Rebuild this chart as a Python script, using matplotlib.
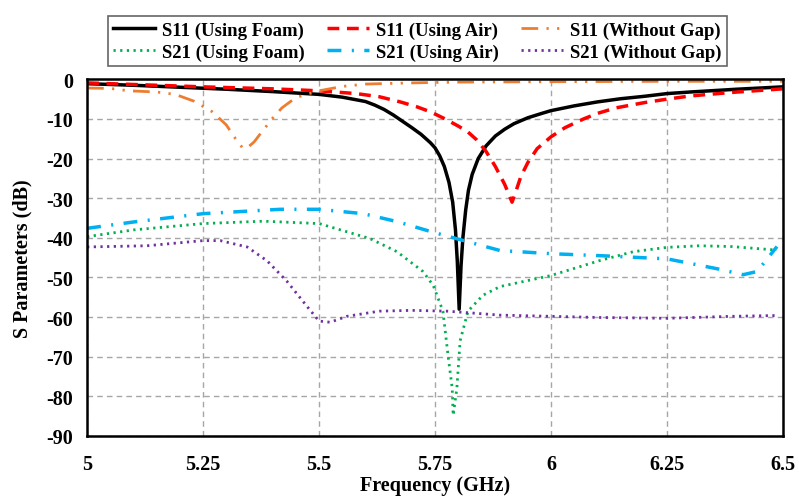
import matplotlib
matplotlib.use("Agg")
import matplotlib.pyplot as plt

plt.rcParams["font.family"] = ["Liberation Serif", "DejaVu Serif"]
plt.rcParams["font.weight"] = "bold"
plt.rcParams["axes.unicode_minus"] = False  # reference uses plain hyphens

# S11 using foam (black solid)
f_s11_foam = [5.00, 5.10, 5.20, 5.30, 5.40, 5.50, 5.55, 5.60, 5.62, 5.64, 5.66, 5.68,
              5.70, 5.72, 5.74, 5.75, 5.76, 5.77, 5.78, 5.788, 5.794, 5.798, 5.802,
              5.806, 5.81, 5.816, 5.822, 5.83, 5.843, 5.86, 5.88, 5.90, 5.92, 5.95,
              5.98, 6.00, 6.05, 6.10, 6.15, 6.20, 6.25, 6.30, 6.40, 6.50]
s11_foam = [-1.1, -1.5, -2.0, -2.5, -3.1, -3.8, -4.5, -5.6, -6.5, -7.6, -9.0, -10.6,
            -12.2, -13.9, -16.0, -17.3, -19.3, -22.0, -26.0, -31.0, -38.0, -46.0, -58.0,
            -47.0, -40.0, -33.0, -28.0, -24.0, -20.0, -16.8, -14.3, -12.6, -11.2, -9.7,
            -8.6, -7.9, -6.7, -5.7, -4.9, -4.3, -3.6, -3.2, -2.5, -1.9]

# S11 using air (red dashed)
f_s11_air = [5.00, 5.10, 5.25, 5.40, 5.50, 5.58, 5.63, 5.675, 5.71, 5.74, 5.77, 5.80,
             5.82, 5.84, 5.86, 5.88, 5.90, 5.916, 5.925, 5.935, 5.95, 5.97, 6.00, 6.03,
             6.07, 6.10, 6.14, 6.20, 6.25, 6.30, 6.39, 6.50]
s11_air = [-0.9, -1.3, -1.9, -2.4, -2.9, -3.6, -4.4, -5.7, -6.9, -8.2, -9.9, -11.8,
           -13.2, -15.3, -18.2, -22.0, -26.5, -31.0, -28.0, -24.5, -21.0, -17.5, -14.5, -12.2,
           -10.0, -8.6, -7.2, -5.9, -5.0, -4.2, -3.3, -2.4]

# S11 without gap (orange dash-dot-dot)
f_s11_nogap = [5.00, 5.05, 5.09, 5.15, 5.19, 5.23, 5.27, 5.30, 5.32, 5.335, 5.345, 5.36,
               5.375, 5.40, 5.42, 5.45, 5.50, 5.55, 5.60, 5.70, 5.80, 6.00, 6.25, 6.50]
s11_nogap = [-2.2, -2.3, -2.9, -3.2, -3.8, -5.5, -8.2, -11.5, -15.0, -17.3, -17.3, -15.8,
             -13.5, -9.8, -7.2, -4.6, -2.9, -1.8, -1.2, -0.9, -0.7, -0.6, -0.5, -0.5]

# S21 using foam (green dotted)
f_s21_foam = [5.00, 5.10, 5.25, 5.38, 5.50, 5.61, 5.668, 5.724, 5.746, 5.767, 5.778,
              5.787, 5.789, 5.797, 5.804, 5.821, 5.853, 5.89, 6.00, 6.106, 6.177, 6.25,
              6.32, 6.39, 6.487]
s21_foam = [-39.7, -38.0, -36.4, -35.8, -36.4, -40.2, -43.5, -48.5, -52.0, -58.5, -69.7,
            -78.0, -84.8, -78.0, -66.0, -58.5, -54.5, -52.3, -49.5, -45.7, -43.5, -42.4,
            -42.0, -42.2, -43.1]

# S21 using air (cyan dash-dot)
f_s21_air = [5.00, 5.10, 5.25, 5.416, 5.50, 5.595, 5.668, 5.746, 5.818, 5.89, 6.00,
             6.106, 6.25, 6.358, 6.414, 6.444, 6.487]
s21_air = [-37.6, -36.0, -33.9, -32.8, -32.8, -33.9, -35.9, -38.6, -40.9, -43.2, -44.0,
           -44.5, -45.3, -47.8, -49.3, -48.5, -42.2]

# S21 without gap (purple dotted)
f_s21_nogap = [5.00, 5.129, 5.25, 5.287, 5.345, 5.388, 5.431, 5.474, 5.50, 5.524, 5.56,
               5.63, 5.70, 5.776, 5.89, 6.106, 6.25, 6.39, 6.487]
s21_nogap = [-42.3, -42.0, -40.7, -40.7, -42.3, -45.8, -51.0, -57.3, -61.0, -61.3, -59.8,
             -58.5, -58.3, -58.5, -59.5, -60.1, -60.3, -59.8, -59.6]

xticks = [5, 5.25, 5.5, 5.75, 6, 6.25, 6.5]
xtick_labels = ["5", "5.25", "5.5", "5.75", "6", "6.25", "6.5"]
yticks = [0, -10, -20, -30, -40, -50, -60, -70, -80, -90]

fig = plt.figure(figsize=(7.99, 5.02), dpi=100)
ax = fig.add_axes([0.109, 0.1295, 0.871, 0.7105])

l1, = ax.plot(f_s11_foam, s11_foam, color="black", lw=2.5, label="S11 (Using Foam)")
l2, = ax.plot(f_s11_air, s11_air, color="#FF0000", lw=2.5, dashes=(3.4, 2.2), label="S11 (Using Air)")
l3, = ax.plot(f_s11_nogap, s11_nogap, color="#ED7D31", lw=2, dashes=(6, 3, 0.8, 3, 0.8, 3),
              label="S11 (Without Gap)")
l4, = ax.plot(f_s21_foam, s21_foam, color="#00B050", lw=2, dashes=(0.8, 1.6), label="S21 (Using Foam)")
l5, = ax.plot(f_s21_air, s21_air, color="#00B0F0", lw=2.5, dashes=(4, 3, 0.6, 3), label="S21 (Using Air)")
l6, = ax.plot(f_s21_nogap, s21_nogap, color="#7030A0", lw=2, dashes=(0.8, 1.6), label="S21 (Without Gap)")

ax.set_xlim(5, 6.5)
ax.set_ylim(-90, 0)
ax.set_xticks(xticks)
ax.set_xticklabels(xtick_labels)
ax.set_yticks(yticks)
ax.tick_params(length=0, labelsize=14.5)
ax.tick_params(axis="x", pad=13)
ax.tick_params(axis="y", pad=10)
for lab in ax.get_xticklabels() + ax.get_yticklabels():
    lab.set_fontweight("bold")
ax.grid(True, color="#A6A6A6", linestyle=(0, (4, 3)), lw=1)
ax.set_axisbelow(True)
for sp in ax.spines.values():
    sp.set_linewidth(1.8)
    sp.set_color("black")

ax.set_xlabel("Frequency (GHz)", fontsize=14.5, fontweight="bold", labelpad=1)
ax.set_ylabel("S Parameters (dB)", fontsize=14.5, fontweight="bold", labelpad=10)

leg = fig.legend(handles=[l1, l4, l2, l5, l3, l6], ncol=3, loc="upper center",
                 bbox_to_anchor=(0.5225, 0.985), fontsize=13.5, frameon=True, fancybox=False,
                 edgecolor="#404040", handlelength=2.2, handletextpad=0.4, columnspacing=1.2,
                 labelspacing=0.25, borderpad=0.3)
leg.get_frame().set_linewidth(1.2)
for t in leg.get_texts():
    t.set_fontweight("bold")

fig.savefig("out.png", dpi=100)
